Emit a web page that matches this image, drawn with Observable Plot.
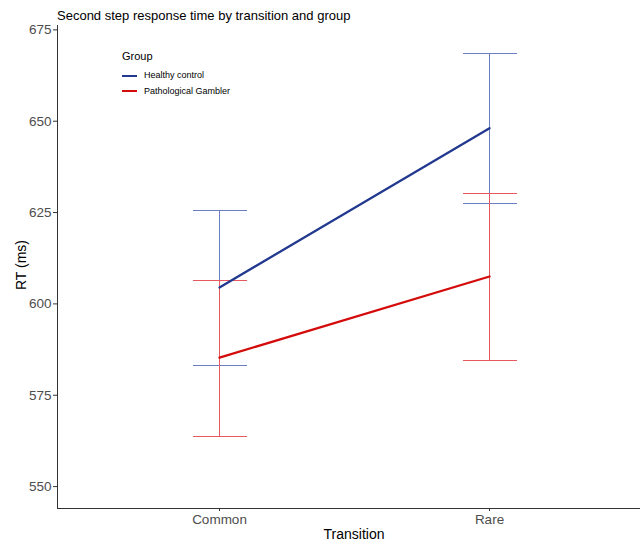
<!DOCTYPE html>
<html>
<head>
<meta charset="utf-8">
<script src="https://cdn.jsdelivr.net/npm/d3@7"></script>
<script src="https://cdn.jsdelivr.net/npm/@observablehq/plot@0.6"></script>
<style>
  body { margin: 0; background: #fff; font-family: "Liberation Sans", Arial, sans-serif; }
  #wrap { position: relative; width: 640px; height: 541px; overflow: hidden; }
  .abs { position: absolute; white-space: nowrap; line-height: 1; }
  #title { left: 57px; top: 9px; font-size: 13px; color: #000; }
  #ylab { left: 21px; top: 265px; font-size: 14px; color: #000; transform: translate(-50%, -50%) rotate(-90deg); }
  #xlab { left: 354px; top: 533.5px; font-size: 14px; color: #000; transform: translate(-50%, -50%); }
  #legend { left: 122px; top: 51px; }
  #legend .lt { font-size: 11px; color: #000; margin-bottom: 6px; }
  #legend .row { display: flex; align-items: center; height: 15.5px; font-size: 9px; color: #000; }
  #legend .key { width: 15px; height: 2px; margin-right: 7px; }
  svg [aria-label="y-axis tick label"] text, svg [aria-label="x-axis tick label"] text { fill: #4d4d4d; }
</style>
</head>
<body>
<div id="wrap"></div>
<script>
// ---- data ----
const transitions = ["Common", "Rare"];
const groups = ["Healthy control", "Pathological Gambler"];
const groupColors = ["#22398f", "#d40b0b"];
const errorColors = ["#6a7ec3", "#e6585d"];
const healthyMean = [604.5, 648.1];
const healthyLow  = [583.1, 627.6];
const healthyHigh = [625.6, 668.5];
const gamblerMean = [585.3, 607.5];
const gamblerLow  = [563.8, 584.4];
const gamblerHigh = [606.5, 630.3];
const yTicks = [550, 575, 600, 625, 650, 675];

const healthyRows = transitions.map((t, i) => ({transition: t, group: groups[0], mean: healthyMean[i], low: healthyLow[i], high: healthyHigh[i]}));
const gamblerRows = transitions.map((t, i) => ({transition: t, group: groups[1], mean: gamblerMean[i], low: gamblerLow[i], high: gamblerHigh[i]}));
const rows = healthyRows.concat(gamblerRows);

// horizontal-bar symbol for error-bar caps
const capSymbol = {
  draw(context, size) {
    const r = Math.sqrt(size / Math.PI);
    context.moveTo(-r, 0);
    context.lineTo(r, 0);
  }
};

function errorBars(data, color) {
  return [
    Plot.link(data, {x1: "transition", x2: "transition", y1: "low", y2: "high", stroke: color, strokeWidth: 1, shapeRendering: "crispEdges"}),
    Plot.dot(data, {x: "transition", y: "low", symbol: capSymbol, r: 27, fill: "none", stroke: color, strokeWidth: 1, shapeRendering: "crispEdges"}),
    Plot.dot(data, {x: "transition", y: "high", symbol: capSymbol, r: 27, fill: "none", stroke: color, strokeWidth: 1, shapeRendering: "crispEdges"})
  ];
}

const chart = Plot.plot({
  width: 640,
  height: 541,
  marginLeft: 57,
  marginRight: -11,
  marginTop: 25,
  marginBottom: 33,
  style: {fontSize: "13.5px", fontFamily: "'Liberation Sans', Arial, sans-serif", color: "#333", background: "#fff"},
  x: {type: "point", domain: transitions, padding: 0.6, label: null, tickSize: 3, tickPadding: 3, line: true},
  y: {domain: [544, 676.2], ticks: yTicks, tickSize: 4, tickPadding: 2, label: null, line: true},
  color: {domain: groups, range: groupColors},
  marks: [
    ...errorBars(healthyRows, errorColors[0]),
    ...errorBars(gamblerRows, errorColors[1]),
    Plot.line(rows, {x: "transition", y: "mean", z: "group", stroke: "group", strokeWidth: 2.3})
  ]
});

const wrap = document.getElementById("wrap");
wrap.appendChild(chart);

const title = document.createElement("div");
title.className = "abs"; title.id = "title";
title.textContent = "Second step response time by transition and group";
wrap.appendChild(title);

const ylab = document.createElement("div");
ylab.className = "abs"; ylab.id = "ylab"; ylab.textContent = "RT (ms)";
wrap.appendChild(ylab);

const xlab = document.createElement("div");
xlab.className = "abs"; xlab.id = "xlab"; xlab.textContent = "Transition";
wrap.appendChild(xlab);

const legend = document.createElement("div");
legend.className = "abs"; legend.id = "legend";
const lt = document.createElement("div"); lt.className = "lt"; lt.textContent = "Group";
legend.appendChild(lt);
groups.forEach((g, i) => {
  const r = document.createElement("div"); r.className = "row";
  const k = document.createElement("div"); k.className = "key"; k.style.background = groupColors[i];
  const s = document.createElement("span"); s.textContent = g;
  r.appendChild(k); r.appendChild(s);
  legend.appendChild(r);
});
wrap.appendChild(legend);
</script>
</body>
</html>
